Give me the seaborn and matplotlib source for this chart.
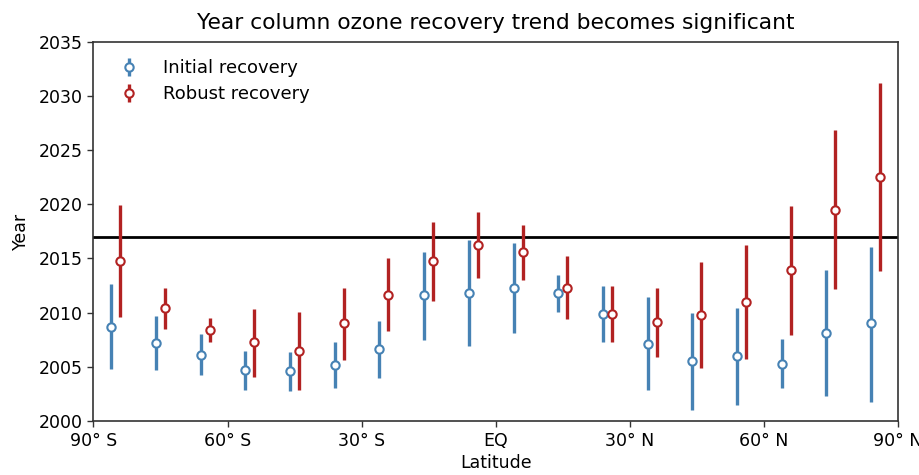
import numpy as np
import pandas as pd
import seaborn as sns
import matplotlib
matplotlib.use("Agg")
import matplotlib.pyplot as plt

# Latitude band centres (degrees)
lat = [-85, -75, -65, -55, -45, -35, -25, -15, -5, 5, 15, 25, 35, 45, 55, 65, 75, 85]

# Initial recovery: central year and range
init_mid = [2008.7, 2007.2, 2006.1, 2004.7, 2004.6, 2005.2, 2006.6, 2011.6, 2011.8,
            2012.3, 2011.8, 2009.9, 2007.1, 2005.5, 2006.0, 2005.3, 2008.1, 2009.0]
init_lo = [2004.8, 2004.7, 2004.2, 2002.9, 2002.8, 2003.0, 2004.0, 2007.5, 2006.9,
           2008.1, 2010.1, 2007.3, 2002.9, 2001.0, 2001.5, 2003.0, 2002.3, 2001.75]
init_hi = [2012.6, 2009.7, 2008.0, 2006.5, 2006.4, 2007.3, 2009.2, 2015.6, 2016.7,
           2016.4, 2013.45, 2012.5, 2011.4, 2010.0, 2010.4, 2007.6, 2013.9, 2016.1]

# Robust recovery: central year and range
rob_mid = [2014.8, 2010.4, 2008.4, 2007.3, 2006.5, 2009.0, 2011.6, 2014.8, 2016.25,
           2015.6, 2012.3, 2009.9, 2009.1, 2009.8, 2011.0, 2013.9, 2019.5, 2022.5]
rob_lo = [2009.6, 2008.5, 2007.3, 2004.1, 2002.9, 2005.6, 2008.3, 2011.1, 2013.2,
          2013.05, 2009.45, 2007.3, 2005.9, 2004.85, 2005.7, 2007.9, 2012.2, 2013.8]
rob_hi = [2019.9, 2012.25, 2009.5, 2010.3, 2010.1, 2012.25, 2015.0, 2018.4, 2019.3,
          2018.1, 2015.2, 2012.5, 2012.25, 2014.7, 2016.2, 2019.85, 2026.9, 2031.2]

ref_year = 2017
xtick_vals = [-90, -60, -30, 0, 30, 60, 90]
xtick_labels = ["90° S", "60° S", "30° S", "EQ", "30° N", "60° N", "90° N"]
series_names = ["Initial recovery", "Robust recovery"]

sns.set_style("ticks")
plt.rcParams["font.family"] = ["DejaVu Sans"]
plt.rcParams["text.color"] = "black"
plt.rcParams["axes.labelcolor"] = "black"
plt.rcParams["xtick.color"] = "black"
plt.rcParams["ytick.color"] = "black"

colors = ["#4682b4", "#b22222"]
offsets = [-1, 1]

fig, ax = plt.subplots(figsize=(9.2, 4.75), dpi=100)
fig.subplots_adjust(left=0.1016, right=0.976, top=0.912, bottom=0.1137)

df = pd.DataFrame({"lat": lat,
                   "init_mid": init_mid, "init_lo": init_lo, "init_hi": init_hi,
                   "rob_mid": rob_mid, "rob_lo": rob_lo, "rob_hi": rob_hi})

for name, key, c, off in zip(series_names, ["init", "rob"], colors, offsets):
    mid = df[f"{key}_mid"].to_numpy()
    lo = df[f"{key}_lo"].to_numpy()
    hi = df[f"{key}_hi"].to_numpy()
    ax.errorbar(df["lat"].to_numpy() + off, mid, yerr=[mid - lo, hi - mid],
                fmt="o", color=c, ecolor=c, elinewidth=2.4, capsize=0,
                markersize=6, markerfacecolor="white", markeredgecolor=c,
                markeredgewidth=1.5, label=name, zorder=3)

ax.axhline(ref_year, color="black", lw=2, zorder=2)

ax.set_xlim(-90, 90)
ax.set_ylim(2000, 2035)
ax.set_xticks(xtick_vals)
ax.set_xticklabels(xtick_labels)
ax.set_yticks(np.arange(2000, 2036, 5))
ax.tick_params(labelsize=12.5, direction="out", length=4.5, width=1, color="#333333")
for s in ax.spines.values():
    s.set_linewidth(1.2)
    s.set_color("#333333")
ax.set_xlabel("Latitude", fontsize=12.5, labelpad=3)
ax.set_ylabel("Year", fontsize=12.5, labelpad=6)
ax.set_title("Year column ozone recovery trend becomes significant", fontsize=15.7, pad=9)
ax.legend(loc="upper left", frameon=False, fontsize=13, handletextpad=0.9,
          borderaxespad=0.55, labelspacing=0.45, borderpad=0.4, handlelength=2.0)

fig.savefig("out.png", dpi=100)
